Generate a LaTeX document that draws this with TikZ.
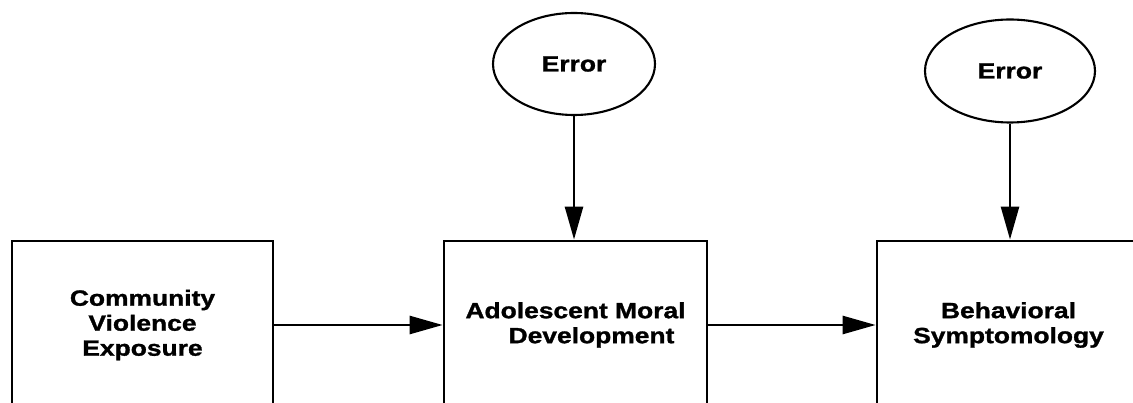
\documentclass[tikz,border=0pt]{standalone}
\usepackage{fontspec}
\setmainfont{Liberation Sans}[FakeStretch=1.2, BoldFeatures={FakeBold=1.3}]
\usetikzlibrary{shapes.geometric,arrows.meta}
\tikzset{
  box/.style={draw, line width=2.8pt, minimum width=#1, minimum height=168pt,
    inner sep=0pt, align=center, font=\fontsize{22pt}{25pt}\selectfont\bfseries},
  errnode/.style={draw, ellipse, line width=2.1pt, inner sep=0pt,
    font=\fontsize{22pt}{25pt}\selectfont\bfseries},
  link/.style={line width=2.6pt, -{Triangle[length=33pt,width=18pt]}}
}
\begin{document}
\begin{tikzpicture}[x=1pt,y=-1pt]
  \useasboundingbox (0,0) rectangle (1133,403);
  \clip (0,0) rectangle (1133,403);
  % the three constructs
  \node[box=261pt] (b1) at (142.5,325) {Community\\Violence\\Exposure};
  \node[box=263pt] (b2) at (575.5,325) {Adolescent Moral\\\hspace*{32pt}Development};
  \node[box=263pt] (b3) at (1008.5,325) {Behavioral\\Symptomology};
  % error terms
  \node[errnode, minimum width=162pt, minimum height=102pt] (e1) at (574,64) {Error};
  \node[errnode, minimum width=170pt, minimum height=103pt] (e2) at (1010,71) {Error};
  % paths
  \draw[link] (b1.east) -- (b2.west);
  \draw[link] (b2.east) -- (b3.west);
  \draw[link] (e1.south) -- (e1.south |- b2.north);
  \draw[link] (e2.south) -- (e2.south |- b3.north);
\end{tikzpicture}
\end{document}
